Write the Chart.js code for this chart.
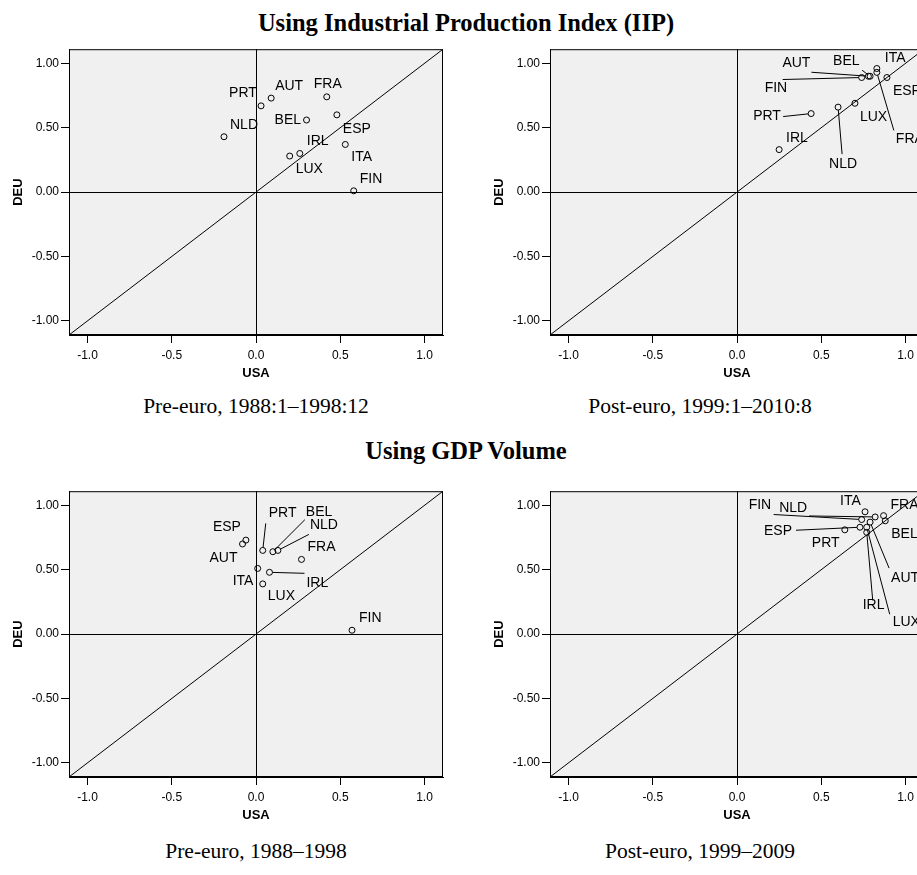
<!DOCTYPE html>
<html>
<head>
<meta charset="utf-8">
<script src="https://cdn.jsdelivr.net/npm/chart.js@4.4.1/dist/chart.umd.min.js"></script>
<style>
  html, body { margin: 0; padding: 0; background: #fff; }
  body { position: relative; width: 917px; height: 875px; overflow: hidden; }
  .panel { position: absolute; width: 460px; height: 345px; }
  .txt { position: absolute; white-space: nowrap; transform: translateX(-50%);
         font-family: "Liberation Serif", "Times New Roman", serif; color: #000; }
  .head { font-weight: bold; font-size: 24.5px; line-height: 24.5px; }
  .cap { font-size: 21.5px; line-height: 21.5px; }
</style>
</head>
<body>
<div class="txt head" style="left:466px; top:11px;">Using Industrial Production Index (IIP)</div>
<div class="panel" style="left:0; top:40px;"><canvas id="iipPre"></canvas></div>
<div class="panel" style="left:481px; top:40px;"><canvas id="iipPost"></canvas></div>
<div class="txt cap" style="left:256px; top:396px;">Pre-euro, 1988:1–1998:12</div>
<div class="txt cap" style="left:700px; top:396px;">Post-euro, 1999:1–2010:8</div>

<div class="txt head" style="left:466px; top:439px;">Using GDP Volume</div>
<div class="panel" style="left:0; top:482px;"><canvas id="gdpPre"></canvas></div>
<div class="panel" style="left:481px; top:482px;"><canvas id="gdpPost"></canvas></div>
<div class="txt cap" style="left:256px; top:841px;">Pre-euro, 1988–1998</div>
<div class="txt cap" style="left:700px; top:841px;">Post-euro, 1999–2009</div>

<script>
// correlations of each country with USA (x) and DEU (y)
const COUNTRIES = ['AUT', 'BEL', 'ESP', 'FIN', 'FRA', 'IRL', 'ITA', 'LUX', 'NLD', 'PRT'];

const IIP_PRE_USA  = [0.09, 0.30, 0.48, 0.58, 0.42, 0.26, 0.53, 0.20, -0.19, 0.03];
const IIP_PRE_DEU  = [0.73, 0.56, 0.60, 0.01, 0.74, 0.30, 0.37, 0.28, 0.43, 0.67];
const IIP_POST_USA = [0.78, 0.79, 0.89, 0.74, 0.83, 0.25, 0.83, 0.70, 0.60, 0.44];
const IIP_POST_DEU = [0.90, 0.90, 0.89, 0.89, 0.93, 0.33, 0.96, 0.69, 0.66, 0.61];
const GDP_PRE_USA  = [-0.08, 0.10, -0.06, 0.57, 0.27, 0.08, 0.01, 0.04, 0.13, 0.04];
const GDP_PRE_DEU  = [0.70, 0.64, 0.73, 0.03, 0.58, 0.48, 0.51, 0.39, 0.65, 0.65];
const GDP_POST_USA = [0.79, 0.88, 0.73, 0.74, 0.87, 0.77, 0.76, 0.77, 0.82, 0.64];
const GDP_POST_DEU = [0.87, 0.88, 0.83, 0.89, 0.92, 0.79, 0.95, 0.83, 0.91, 0.81];

const X_TICKS = [-1.0, -0.5, 0.0, 0.5, 1.0];
const Y_TICKS = [-1.0, -0.5, 0.0, 0.5, 1.0];
const AXIS_MIN = -1.11;
const AXIS_MAX = 1.11;

// label placement in pixels from the point: [dx, dy] or [dx, dy, leaderX, leaderY]
const LABELS_IIP_PRE = {
  AUT: [4, -12], BEL: [-32, 0], ESP: [6, 14], FIN: [6, -12], FRA: [-13, -13],
  IRL: [7, -12], ITA: [6, 13], LUX: [6, 13], NLD: [6, -12], PRT: [-32, -13]
};
const LABELS_IIP_POST = {
  AUT: [-86, -13, -57, -4], BEL: [-37, -15, -8, -6], ESP: [6, 14], FIN: [-97, 11, -79, 2],
  FRA: [19, 67, 17, 58], IRL: [7, -11], ITA: [8, -10], LUX: [5, 14],
  NLD: [-9, 57, 4, 47], PRT: [-58, 3, -28, 3]
};
const LABELS_GDP_PRE = {
  AUT: [-33, 14], BEL: [33, -40, 32, -32], ESP: [-33, -13], FIN: [7, -12], FRA: [6, -12],
  IRL: [37, 11, 35, 1], ITA: [-25, 13], LUX: [5, 12], NLD: [32, -25, 31, -16], PRT: [6, -37, 3, -27]
};
const LABELS_GDP_POST = {
  AUT: [21, 56, 19, 46], BEL: [6, 13], ESP: [-96, 4, -64, 3], FIN: [-113, -14, -88, -5],
  FRA: [7, -11], IRL: [-4, 73, 6, 68], ITA: [-25, -11], LUX: [26, 95, 23, 87],
  NLD: [-96, -9, -66, -1], PRT: [-33, 13]
};

const SANS = '"Liberation Sans", Arial, sans-serif';

const framePlugin = {
  id: 'frame',
  beforeDraw(chart) {
    const { ctx, chartArea: a } = chart;
    ctx.save();
    ctx.fillStyle = '#f0f0f0';
    ctx.fillRect(a.left, a.top, a.width, a.height);
    ctx.restore();
  },
  afterDraw(chart) {
    const { ctx, chartArea: a } = chart;
    ctx.save();
    ctx.strokeStyle = '#000';
    ctx.lineWidth = 1;
    ctx.strokeRect(a.left + 0.5, a.top + 0.5, a.width - 1, a.height - 1);
    ctx.restore();
  }
};

const labelPlugin = {
  id: 'pointLabels',
  afterDatasetsDraw(chart, args, opts) {
    const { ctx } = chart;
    const meta = chart.getDatasetMeta(1);
    ctx.save();
    ctx.font = '14px ' + SANS;
    ctx.fillStyle = '#000';
    ctx.strokeStyle = '#000';
    ctx.lineWidth = 1;
    ctx.textAlign = 'left';
    ctx.textBaseline = 'middle';
    COUNTRIES.forEach((c, i) => {
      const p = meta.data[i];
      const l = opts.layout[c];
      if (l.length > 2) {
        const ex = p.x + l[2], ey = p.y + l[3];
        const ang = Math.atan2(ey - p.y, ex - p.x);
        ctx.beginPath();
        ctx.moveTo(p.x + Math.cos(ang) * 3, p.y + Math.sin(ang) * 3);
        ctx.lineTo(ex, ey);
        ctx.stroke();
      }
      ctx.fillText(c, p.x + l[0], p.y + l[1]);
    });
    ctx.restore();
  }
};

function axis(ticks, digits, title, fit, pad) {
  return {
    type: 'linear',
    min: AXIS_MIN,
    max: AXIS_MAX,
    afterBuildTicks: s => { s.ticks = ticks.map(v => ({ value: v })); },
    afterFit: fit,
    ticks: {
      callback: v => Number(v).toFixed(digits),
      font: { size: 12, family: SANS },
      color: '#000',
      padding: pad,
      maxRotation: 0,
      autoSkip: false
    },
    grid: {
      color: c => (c.tick && c.tick.value === 0 ? '#000' : 'rgba(0,0,0,0)'),
      tickColor: '#000',
      tickLength: 8,
      lineWidth: 1
    },
    border: { color: '#000' },
    title: {
      display: true,
      text: title,
      color: '#000',
      font: { size: 13, weight: 'bold', family: SANS },
      padding: { top: 11, bottom: 4 }
    }
  };
}

function makeChart(id, usa, deu, layout) {
  new Chart(document.getElementById(id), {
    type: 'scatter',
    data: {
      datasets: [
        {
          type: 'line',
          data: [{ x: AXIS_MIN, y: AXIS_MIN }, { x: AXIS_MAX, y: AXIS_MAX }],
          borderColor: '#000',
          borderWidth: 1,
          pointRadius: 0,
          fill: false
        },
        {
          data: COUNTRIES.map((c, i) => ({ x: usa[i], y: deu[i] })),
          pointRadius: 3,
          pointBorderWidth: 1,
          pointBorderColor: '#000',
          pointBackgroundColor: 'rgba(0,0,0,0)'
        }
      ]
    },
    options: {
      responsive: true,
      maintainAspectRatio: false,
      animation: false,
      events: [],
      layout: { padding: { top: 7, right: 17, left: 0, bottom: 0 } },
      scales: {
        x: axis(X_TICKS, 1, 'USA', s => { s.height = 50; }, 5),
        y: axis(Y_TICKS, 2, 'DEU', s => { s.width = 69; }, 2)
      },
      plugins: {
        legend: { display: false },
        tooltip: { enabled: false },
        pointLabels: { layout: layout }
      }
    },
    plugins: [framePlugin, labelPlugin]
  });
}

makeChart('iipPre', IIP_PRE_USA, IIP_PRE_DEU, LABELS_IIP_PRE);
makeChart('iipPost', IIP_POST_USA, IIP_POST_DEU, LABELS_IIP_POST);
makeChart('gdpPre', GDP_PRE_USA, GDP_PRE_DEU, LABELS_GDP_PRE);
makeChart('gdpPost', GDP_POST_USA, GDP_POST_DEU, LABELS_GDP_POST);
</script>
</body>
</html>
